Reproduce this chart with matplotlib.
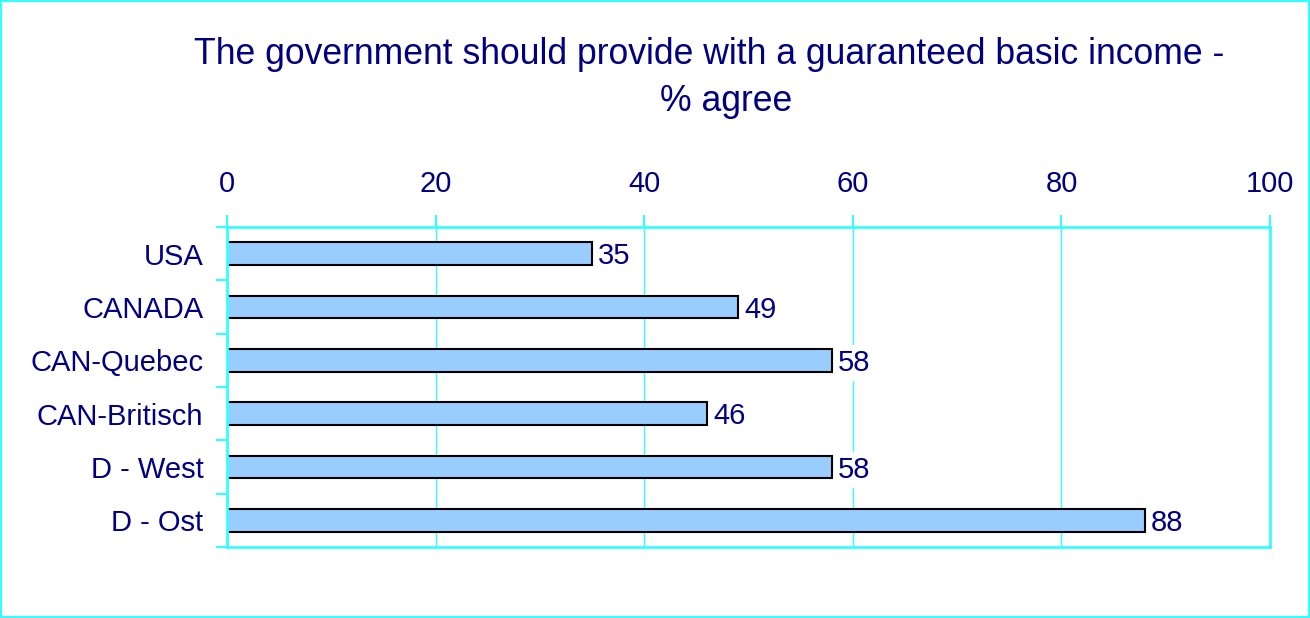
import numpy as np
import matplotlib.pyplot as plt
from matplotlib.patches import Rectangle

# Share agreeing that the government should provide a basic income
regions = ['USA', 'CANADA', 'CAN-Quebec', 'CAN-Britisch', 'D - West', 'D - Ost']
agree = [35, 49, 58, 46, 58, 88]
xticks = [0, 20, 40, 60, 80, 100]

navy = '#000080'
cyan = '#33FFFF'
plt.rcParams['font.family'] = ['Liberation Sans', 'DejaVu Sans']

fig = plt.figure(figsize=(13.1, 6.18), dpi=100)
fig.patches.append(Rectangle((0.001, 0.002), 0.998, 0.996, transform=fig.transFigure,
                             fill=False, edgecolor=cyan, linewidth=1.5))
ax = fig.add_axes([0.1733, 0.1149, 0.7962, 0.5178])

y = np.arange(len(regions))
ax.barh(y, agree, height=0.43, color='#99CCFF', edgecolor='black', linewidth=1.5, zorder=2)
for yi, v in zip(y, agree):
    ax.text(v + 0.6, yi + 0.05, str(v), va='center', ha='left', fontsize=21, color=navy,
            bbox=dict(facecolor='white', edgecolor='none', pad=3), zorder=4, clip_on=False)

ax.set_xlim(0, 100)
ax.set_ylim(len(regions) - 0.5, -0.5)
ax.set_xticks(xticks)
ax.xaxis.tick_top()
ax.tick_params(axis='x', direction='out', length=9, width=1.5, color=cyan,
               labelsize=21, labelcolor=navy, pad=12)
ax.set_yticks(y)
ax.set_yticklabels(regions)
ax.set_yticks(np.arange(len(regions) + 1) - 0.5, minor=True)
ax.tick_params(axis='y', which='major', length=0, labelsize=21, labelcolor=navy, pad=17)
ax.tick_params(axis='y', which='minor', direction='out', length=8, width=1.5, color=cyan)
ax.grid(axis='x', color=cyan, linewidth=1, zorder=0)
ax.set_axisbelow(True)
for s in ax.spines.values():
    s.set_color(cyan)
    s.set_linewidth(2)

fig.text(0.541, 0.912, 'The government should provide with a guaranteed basic income -',
         ha='center', va='center', fontsize=25.6, color=navy)
fig.text(0.554, 0.835, '% agree', ha='center', va='center', fontsize=25.6, color=navy)

fig.savefig('out.png', dpi=100)
